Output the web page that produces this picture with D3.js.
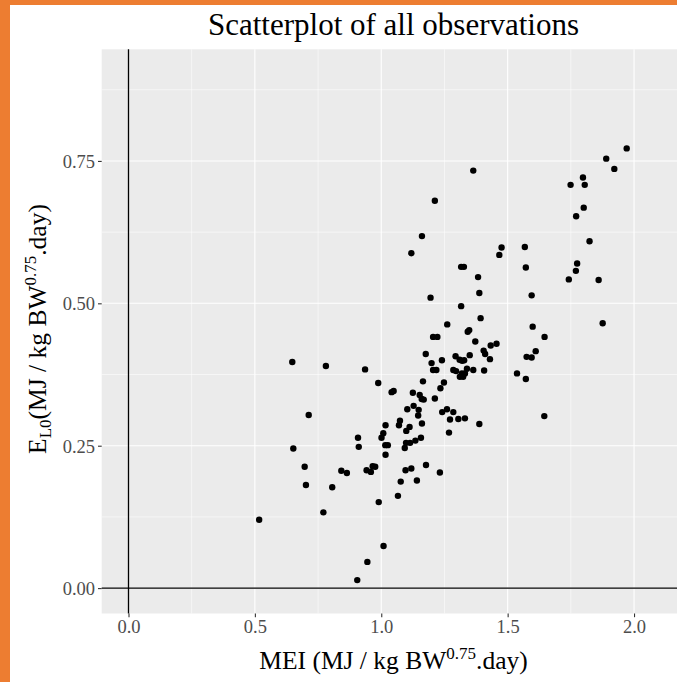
<!DOCTYPE html>
<html>
<head>
<meta charset="utf-8">
<title>Scatterplot of all observations</title>
<script src="https://d3js.org/d3.v7.min.js"></script>
<style>
  body { margin: 0; background: #fff; }
  text { font-family: "Liberation Serif", "Times New Roman", serif; }
  .axis text { fill: #4d4d4d; font-size: 18.5px; }
  .axis line { stroke: #333; stroke-width: 1.1px; }
  .axis path { display: none; }
</style>
</head>
<body>
<svg width="677" height="682"></svg>
<script>
// MEI (x) and E_L0 (y)
const mei = [
  0.648, 0.781, 0.713, 0.652, 0.697, 0.702, 0.842, 0.864, 0.806, 0.771, 0.517,
  0.936, 0.988, 1.041, 1.049, 1.125, 1.152, 1.160, 1.168, 1.212, 1.103, 1.128,
  1.148, 1.146, 1.241, 1.260, 1.285, 1.272, 1.305, 1.331, 1.017, 1.074, 1.070,
  1.112, 1.099, 1.161, 1.268, 1.008, 1.001, 0.908, 0.911, 1.016, 1.026, 1.093,
  1.098, 1.114, 1.135, 1.157, 1.017, 0.942, 0.959, 0.966, 0.976, 1.096, 1.119,
  1.177, 1.232, 1.077, 1.141, 1.066, 0.990, 1.009, 0.945, 0.905, 1.388,
  1.261, 1.205, 1.222, 1.176, 1.294, 1.199, 1.240, 1.205, 1.218, 1.285, 1.296,
  1.310, 1.165, 1.248, 1.234, 1.212, 1.161, 1.119, 1.195, 1.316,
  1.476, 1.467, 1.568, 1.572, 1.316, 1.327, 1.383, 1.388, 1.393, 1.342, 1.348,
  1.372, 1.405, 1.411, 1.430, 1.433, 1.456, 1.350, 1.320, 1.328, 1.339, 1.364,
  1.407, 1.319, 1.331, 1.311, 1.324, 1.537, 1.572,
  1.971, 1.890, 1.922, 1.364, 1.798, 1.749, 1.805, 1.801, 1.771, 1.824, 1.775,
  1.770, 1.742, 1.860, 1.595, 1.876, 1.599, 1.646, 1.611, 1.575, 1.595, 1.645
];
const elo = [
  0.397, 0.390, 0.304, 0.245, 0.213, 0.181, 0.206, 0.202, 0.177, 0.133, 0.120,
  0.384, 0.360, 0.344, 0.346, 0.343, 0.339, 0.332, 0.331, 0.333, 0.314, 0.320,
  0.313, 0.303, 0.309, 0.314, 0.309, 0.296, 0.297, 0.298, 0.286, 0.294, 0.286,
  0.283, 0.276, 0.289, 0.273, 0.272, 0.264, 0.264, 0.248, 0.251, 0.251, 0.246,
  0.255, 0.255, 0.259, 0.264, 0.234, 0.207, 0.204, 0.214, 0.213, 0.207, 0.210,
  0.216, 0.203, 0.187, 0.189, 0.162, 0.151, 0.074, 0.046, 0.014, 0.288,
  0.463, 0.441, 0.441, 0.411, 0.407, 0.395, 0.400, 0.383, 0.383, 0.383, 0.381,
  0.401, 0.363, 0.361, 0.351, 0.680, 0.618, 0.588, 0.510, 0.495,
  0.598, 0.585, 0.599, 0.563, 0.564, 0.564, 0.546, 0.518, 0.474, 0.450, 0.453,
  0.433, 0.417, 0.411, 0.402, 0.426, 0.429, 0.409, 0.399, 0.400, 0.385, 0.383,
  0.382, 0.377, 0.377, 0.371, 0.371, 0.377, 0.367,
  0.772, 0.754, 0.736, 0.733, 0.721, 0.708, 0.708, 0.668, 0.653, 0.609, 0.570,
  0.557, 0.542, 0.541, 0.514, 0.465, 0.459, 0.441, 0.416, 0.406, 0.405, 0.302
];

const xTicks = [0, 0.5, 1, 1.5, 2];
const yTicks = [0, 0.25, 0.5, 0.75];
const xMinor = [0.25, 0.75, 1.25, 1.75];
const yMinor = [0.125, 0.375, 0.625, 0.875];

const width = 677, height = 682;
const panel = { left: 101.7, right: 677, top: 49.3, bottom: 613.5 };

const svg = d3.select("svg");

// orange frame on the left and top edges
svg.append("rect").attr("x", 0).attr("y", 0).attr("width", width).attr("height", 5).attr("fill", "#ed7d31");
svg.append("rect").attr("x", 0).attr("y", 0).attr("width", 10).attr("height", height).attr("fill", "#ed7d31");

const x = d3.scaleLinear().domain([-0.106, 2.17]).range([panel.left, panel.right]);
const y = d3.scaleLinear().domain([-0.0446, 0.946]).range([panel.bottom, panel.top]);

// panel background
svg.append("rect")
  .attr("x", panel.left).attr("y", panel.top)
  .attr("width", panel.right - panel.left)
  .attr("height", panel.bottom - panel.top)
  .attr("fill", "#ebebeb");

// grid lines
const grid = svg.append("g").attr("stroke", "#fff");
grid.selectAll(".vminor").data(xMinor).enter().append("line")
  .attr("x1", d => x(d)).attr("x2", d => x(d))
  .attr("y1", panel.top).attr("y2", panel.bottom)
  .attr("stroke-width", 0.55);
grid.selectAll(".hminor").data(yMinor).enter().append("line")
  .attr("y1", d => y(d)).attr("y2", d => y(d))
  .attr("x1", panel.left).attr("x2", panel.right)
  .attr("stroke-width", 0.55);
grid.selectAll(".vmajor").data(xTicks).enter().append("line")
  .attr("x1", d => x(d)).attr("x2", d => x(d))
  .attr("y1", panel.top).attr("y2", panel.bottom)
  .attr("stroke-width", 1.1);
grid.selectAll(".hmajor").data(yTicks).enter().append("line")
  .attr("y1", d => y(d)).attr("y2", d => y(d))
  .attr("x1", panel.left).attr("x2", panel.right)
  .attr("stroke-width", 1.1);

// zero reference lines
svg.append("line")
  .attr("x1", x(0)).attr("x2", x(0))
  .attr("y1", panel.top).attr("y2", panel.bottom)
  .attr("stroke", "#000").attr("stroke-width", 1.3);
svg.append("line")
  .attr("x1", panel.left).attr("x2", panel.right)
  .attr("y1", y(0)).attr("y2", y(0))
  .attr("stroke", "#000").attr("stroke-width", 1.3);

// points
svg.append("g").selectAll("circle")
  .data(mei.map((m, i) => [m, elo[i]]))
  .enter().append("circle")
  .attr("cx", d => x(d[0]))
  .attr("cy", d => y(d[1]))
  .attr("r", 3.2)
  .attr("fill", "#000");

// axes
svg.append("g")
  .attr("class", "axis")
  .attr("transform", `translate(0,${panel.bottom})`)
  .call(d3.axisBottom(x).tickValues(xTicks).tickFormat(d3.format(".1f")).tickSize(3.7).tickPadding(3));

svg.append("g")
  .attr("class", "axis")
  .attr("transform", `translate(${panel.left},0)`)
  .call(d3.axisLeft(y).tickValues(yTicks).tickFormat(d3.format(".2f")).tickSize(3.7).tickPadding(3))
  .selectAll("text").attr("dy", "0.35em");

// title
svg.append("text")
  .attr("x", 393.5).attr("y", 35)
  .attr("text-anchor", "middle")
  .attr("font-size", 31)
  .attr("fill", "#000")
  .text("Scatterplot of all observations");

// x axis title
const xt = svg.append("text")
  .attr("x", 393.5).attr("y", 669)
  .attr("text-anchor", "middle")
  .attr("font-size", 25.5)
  .attr("fill", "#000");
xt.append("tspan").text("MEI (MJ / kg BW");
xt.append("tspan").attr("dy", -10.5).attr("font-size", 17).text("0.75");
xt.append("tspan").attr("dy", 10.5).text(".day)");

// y axis title
const yt = svg.append("text")
  .attr("transform", `translate(46,329) rotate(-90)`)
  .attr("text-anchor", "middle")
  .attr("font-size", 25.5)
  .attr("fill", "#000");
yt.append("tspan").text("E");
yt.append("tspan").attr("dy", 5).attr("font-size", 17).text("L0");
yt.append("tspan").attr("dy", -5).text("(MJ / kg BW");
yt.append("tspan").attr("dy", -10.5).attr("font-size", 17).text("0.75");
yt.append("tspan").attr("dy", 10.5).text(".day)");
</script>
</body>
</html>
